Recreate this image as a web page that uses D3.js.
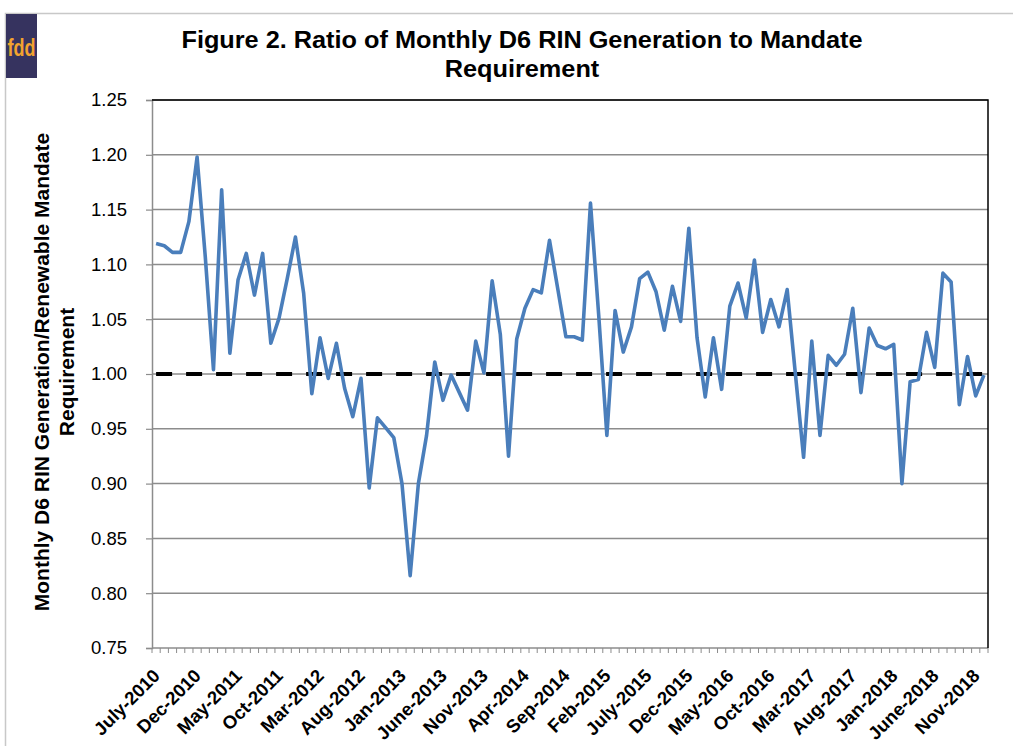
<!DOCTYPE html>
<html><head><meta charset="utf-8">
<script src="https://cdnjs.cloudflare.com/ajax/libs/d3/7.8.5/d3.min.js"></script>
<style>body{margin:0;background:#fff;}svg{display:block;font-family:Arial,"Liberation Sans",sans-serif;}</style>
</head><body><svg id="c" width="1013" height="746"></svg>
<script>
const monthNames = ["Jan","Feb","Mar","Apr","May","June","July","Aug","Sep","Oct","Nov","Dec"];
const startYear = 2010, startMonth = 6; // July 2010
const ratio = [1.119,1.117,1.111,1.111,1.139,1.198,1.107,1.004,1.168,1.019,1.086,1.110,1.072,1.110,1.028,1.051,1.087,1.125,1.074,0.982,1.033,0.996,1.028,0.987,0.961,0.996,0.896,0.960,0.951,0.942,0.900,0.816,0.900,0.944,1.011,0.976,0.999,0.983,0.967,1.030,1.001,1.085,1.036,0.925,1.032,1.060,1.077,1.074,1.122,1.078,1.034,1.034,1.031,1.156,1.054,0.944,1.058,1.020,1.043,1.087,1.093,1.075,1.040,1.080,1.048,1.133,1.033,0.979,1.033,0.986,1.062,1.083,1.051,1.104,1.038,1.068,1.043,1.077,1.000,0.924,1.030,0.944,1.017,1.008,1.018,1.060,0.983,1.042,1.026,1.023,1.027,0.900,0.993,0.995,1.038,1.006,1.092,1.084,0.972,1.016,0.980,0.999];
const months = ratio.map((_, i) => { const m = startMonth + i; return monthNames[m % 12] + "-" + (startYear + Math.floor(m / 12)); });
const mandate = ratio.map(() => 1.00);
const yTicks = [0.75,0.80,0.85,0.90,0.95,1.00,1.05,1.10,1.15,1.20,1.25];
const labelStep = 5;

const svg = d3.select("#c");
const L = 152, R = 988, T = 100, B = 648;

// frame
svg.append("path").attr("d","M5.5,746 V13.5 H1013").attr("fill","none").attr("stroke","#c8c8c8").attr("stroke-width",1.5);
// logo
svg.append("rect").attr("x",6).attr("y",14).attr("width",31).attr("height",64).attr("fill","#36335f");
svg.append("text").attr("x",21.5).attr("y",56).attr("text-anchor","middle").attr("fill","#f3a32f").attr("font-size",24).attr("font-weight","bold")
  .attr("textLength",28).attr("lengthAdjust","spacingAndGlyphs").text("fdd");

// title
const title = svg.append("text").attr("text-anchor","middle").attr("font-size",23).attr("font-weight","bold").attr("fill","#000")
  .attr("transform","translate(522,0) scale(1.1,1)");
title.append("tspan").attr("x",0).attr("y",48.5).text("Figure 2. Ratio of Monthly D6 RIN Generation to Mandate");
title.append("tspan").attr("x",0).attr("y",77).text("Requirement");

const x = d3.scaleBand().domain(months).range([L, R]).paddingInner(0).paddingOuter(0);
const y = d3.scaleLinear().domain([0.75, 1.25]).range([B, T]);
const cx = d => x(d) + x.bandwidth() / 2;

// gridlines
svg.append("g").selectAll("line").data(yTicks.filter(v => v > 0.75)).join("line")
  .attr("x1", L).attr("x2", R).attr("y1", d => y(d)).attr("y2", d => y(d))
  .attr("stroke", "#8c8c8c").attr("stroke-width", 1.5);

// y axis
const ya = svg.append("g").attr("transform", `translate(${L},0)`)
  .call(d3.axisLeft(y).tickValues(yTicks).tickFormat(d3.format(".2f")).tickSize(6).tickPadding(19));
ya.select(".domain").attr("stroke", "#8c8c8c").attr("stroke-width", 1.5);
ya.selectAll(".tick line").attr("stroke", "#8c8c8c").attr("stroke-width", 1.2);
ya.selectAll(".tick text").attr("font-size", 18.5).attr("font-family", "Arial, 'Liberation Sans', sans-serif").attr("fill", "#000");

// x axis: minor ticks at category boundaries
const xa = svg.append("g").attr("transform", `translate(0,${B})`);
xa.append("line").attr("x1", L).attr("x2", R).attr("y1", 0).attr("y2", 0).attr("stroke", "#8c8c8c").attr("stroke-width", 1.5);
xa.selectAll("line.t").data(months.concat(["end"])).join("line").attr("class","t")
  .attr("x1", (d, i) => i < months.length ? x(d) : R).attr("x2", (d, i) => i < months.length ? x(d) : R)
  .attr("y1", 0).attr("y2", 5).attr("stroke", "#8c8c8c").attr("stroke-width", 1);
xa.selectAll("text").data(months.filter((d, i) => i % labelStep === 0)).join("text")
  .attr("transform", d => `translate(${cx(d) + 5},${29}) rotate(-45)`)
  .attr("text-anchor", "end").attr("font-size", 18.5).attr("font-weight", "bold").attr("fill", "#000")
  .text(d => d);

// right/top border
svg.append("path").attr("d", `M${L},${T} H${R} V${B}`).attr("fill", "none").attr("stroke", "#000").attr("stroke-width", 1.5);

// y axis title
const yt = svg.append("text").attr("transform", "translate(49,372) rotate(-90)").attr("text-anchor", "middle").attr("font-size", 21).attr("font-weight", "bold").attr("fill", "#000");
yt.append("tspan").attr("x", 0).attr("y", 0).text("Monthly D6 RIN Generation/Renewable Mandate");
yt.append("tspan").attr("x", 0).attr("y", 25).text("Requirement");

// dashed mandate line
svg.append("path").datum(mandate)
  .attr("d", d3.line().x((d, i) => cx(months[i])).y(d => y(d)))
  .attr("fill", "none").attr("stroke", "#000").attr("stroke-width", 4).attr("stroke-dasharray", "16,14");

// ratio line
svg.append("path").datum(ratio)
  .attr("d", d3.line().x((d, i) => cx(months[i])).y(d => y(d)))
  .attr("fill", "none").attr("stroke", "#4a7ebb").attr("stroke-width", 3.6).attr("stroke-linejoin", "round");
</script></body></html>
